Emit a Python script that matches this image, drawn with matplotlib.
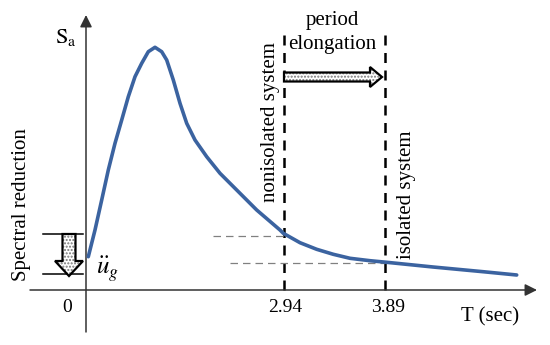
import numpy as np
import matplotlib
matplotlib.use("Agg")
import matplotlib.pyplot as plt
from matplotlib.patches import FancyArrow

plt.rcParams['font.family'] = ['Liberation Serif', 'DejaVu Serif']
plt.rcParams['mathtext.fontset'] = 'stix'

#=================== data (schematic units) ===================
# response spectrum curve, T vs Sa
T_curve = [2.3, 9, 15.7, 22.3, 29, 35.7, 42.3, 49, 55.7, 62.3, 69, 75.7, 80.7, 87.3, 94,
           100.7, 109, 120.7, 134, 150.7, 170.7, 194, 197.3, 214, 230.7, 247.3, 264, 284,
           300.7, 347, 397, 430.7]
Sa_curve = [33.3, 60, 90, 120, 146.7, 170, 193.3, 213.3, 226.7, 238.3, 242.7, 238.3, 230,
            210, 186.7, 166.7, 150, 133.3, 116.7, 100, 80, 60, 56.7, 47.3, 40.7, 35.7, 31.7,
            29.3, 27.7, 23, 18.3, 15]

T_nonisolated = 198
T_isolated = 299
Sa_nonisolated = 54
Sa_isolated = 27
tick_labels = ["0", "2.94", "3.89"]
ground_acc = [56, 16]   # top / bottom of spectral reduction bracket

#=================== plot ===================
fig = plt.figure(figsize=(5.5, 3.45), dpi=100)
ax = fig.add_axes([0, 0, 1, 1])
ax.set_xlim(-86, 464)
ax.set_ylim(-55, 290)
ax.axis('off')

axcol = '#333333'
# axes with arrow heads
ax.annotate('', xy=(451, 0), xytext=(-56, 0),
            arrowprops=dict(arrowstyle='-|>', mutation_scale=18, lw=1.1, color=axcol, shrinkA=0, shrinkB=0))
ax.annotate('', xy=(0, 275), xytext=(0, -42),
            arrowprops=dict(arrowstyle='-|>', mutation_scale=18, lw=1.1, color=axcol, shrinkA=0, shrinkB=0))

# spectrum
ax.plot(T_curve, Sa_curve, color='#3b63a0', lw=2.6, solid_capstyle='round',
        solid_joinstyle='round', zorder=3)

# vertical dashed lines for the two periods
for t in [T_nonisolated, T_isolated]:
    ax.plot([t, t], [0, 257], color='black', lw=1.8, linestyle=(0, (4, 3)), zorder=2)

# gray dashed horizontal lines
ax.plot([127, T_nonisolated], [Sa_nonisolated, Sa_nonisolated], color='gray', lw=0.9, linestyle=(0, (6, 4)))
ax.plot([144, T_isolated], [Sa_isolated, Sa_isolated], color='gray', lw=0.9, linestyle=(0, (6, 4)))

# period elongation arrow
for fill in [True, False]:
    a = FancyArrow(T_nonisolated, 213, T_isolated - T_nonisolated - 3, 0, width=9, head_width=20,
                   head_length=12, length_includes_head=True,
                   facecolor='white' if fill else 'none', edgecolor='#777777' if fill else 'black',
                   hatch='.....' if fill else None, lw=0 if fill else 1.6, zorder=4)
    ax.add_patch(a)

# spectral reduction arrow + bracket lines
for y in ground_acc:
    ax.plot([-43, -3], [y, y], color='black', lw=1.1)
for fill in [True, False]:
    a = FancyArrow(-17, ground_acc[0], 0, ground_acc[1] - ground_acc[0] - 2, width=13, head_width=28,
                   head_length=15, length_includes_head=True,
                   facecolor='white' if fill else 'none', edgecolor='#777777' if fill else 'black',
                   hatch='.....' if fill else None, lw=0 if fill else 1.6, zorder=4)
    ax.add_patch(a)

# texts
fs = 15
ax.text(-19, -17, tick_labels[0], fontsize=fs - 1, ha='center', va='center')
ax.text(T_nonisolated + 1, -18, tick_labels[1], fontsize=fs - 1, ha='center', va='center')
ax.text(T_isolated + 3, -18, tick_labels[2], fontsize=fs - 1, ha='center', va='center')
ax.text(404, -27, 'T (sec)', fontsize=fs, ha='center', va='center')
ax.text(-20, 253, r'$\mathrm{S_a}$', fontsize=fs + 1, ha='center', va='center')
ax.text(22, 21, r'$\ddot{u}_g$', fontsize=fs + 3, ha='center', va='center')
ax.text(-64, 85, 'Spectral reduction', fontsize=fs, rotation=90, ha='center', va='center')
ax.text(185, 168, 'nonisolated system', fontsize=fs, rotation=90, ha='center', va='center')
ax.text(320, 95, 'isolated system', fontsize=fs, rotation=90, ha='center', va='center')
ax.text(246, 269, 'period', fontsize=fs, ha='center', va='center')
ax.text(246, 245, 'elongation', fontsize=fs, ha='center', va='center')

plt.savefig('out.png', dpi=100)
